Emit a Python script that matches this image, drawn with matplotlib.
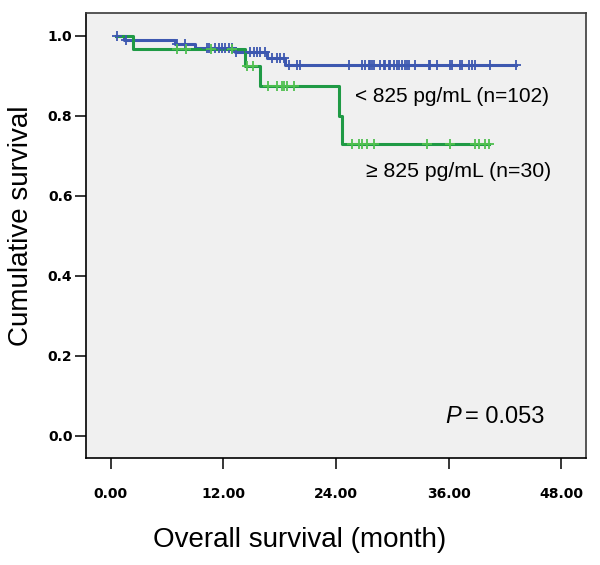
import numpy as np
import matplotlib
matplotlib.use("Agg")
import matplotlib.pyplot as plt

# ---- data ----
low_times = [0.6, 1.35, 6.86, 9.0, 13.26, 16.64, 18.6, 43.13]
low_surv = [1.0, 0.990, 0.980, 0.970, 0.960, 0.943, 0.927, 0.927]
low_censor = [0.64, 1.63, 7.1, 7.85, 10.2, 10.41, 11.13, 11.48, 11.84, 12.19,
              12.54, 12.9, 13.37, 14.86, 15.21, 15.57, 15.93, 16.46, 17.17, 17.7,
              18.06, 18.41, 18.95, 19.84, 20.2, 25.35, 26.77, 27.13, 27.48, 27.66,
              27.84, 28.01, 28.73, 29.08, 29.26, 29.61, 29.79, 30.15, 30.5, 30.68,
              31.04, 31.39, 31.57, 31.75, 32.46, 33.88, 34.06, 34.77, 36.19, 36.37,
              37.26, 37.44, 38.15, 38.5, 38.86, 40.46, 43.13]

high_times = [0.6, 2.4, 14.33, 15.93, 24.35, 24.6, 40.3]
high_surv = [1.0, 0.967, 0.925, 0.875, 0.80, 0.728, 0.728]
high_censor = [7.04, 8.03, 10.7, 12.9, 14.5, 15.2, 16.8, 17.7, 18.24, 18.41,
               18.77, 19.48, 25.7, 26.41, 26.77, 27.3, 28.01, 33.7, 36.19,
               38.86, 39.22, 39.93, 40.3]

low_label = "< 825 pg/mL (n=102)"
high_label = "\u2265 825 pg/mL (n=30)"
p_value = "0.053"
xticks = [0, 12, 24, 36, 48]
yticks = [0.0, 0.2, 0.4, 0.6, 0.8, 1.0]

BLUE = "#3d58b0"
GREEN = "#1f9a45"
GREEN_C = "#50c050"


def step_value(times, surv, t):
    idx = np.searchsorted(times, t, side="right") - 1
    idx = np.clip(idx, 0, len(surv) - 1)
    return np.asarray(surv)[idx]


fig = plt.figure(figsize=(6.0, 5.65), dpi=100)
ax = fig.add_axes([0.143, 0.190, 0.833, 0.7875])
ax.set_facecolor("#f0f0f0")

ax.step(low_times, low_surv, where="post", color=BLUE, lw=2.2, zorder=3)
ax.step(high_times, high_surv, where="post", color=GREEN, lw=2.2, zorder=4)
ax.plot(low_censor, step_value(low_times, low_surv, low_censor), ls="none",
        marker="+", ms=6.5, mew=1.3, color=BLUE, zorder=5)
ax.plot(high_censor, step_value(high_times, high_surv, high_censor), ls="none",
        marker="+", ms=6.5, mew=1.3, color=GREEN_C, zorder=6)

ax.set_xlim(-2.67, 50.6)
ax.set_ylim(-0.055, 1.057)
ax.set_xticks(xticks)
ax.set_xticklabels([f"{v:.2f}" for v in xticks])
ax.set_yticks(yticks)
ax.set_yticklabels([f"{v:.1f}" for v in yticks])

for lab in ax.get_xticklabels() + ax.get_yticklabels():
    lab.set_fontfamily("DejaVu Sans")
    lab.set_fontweight("bold")
    lab.set_fontsize(10)

ax.tick_params(axis="x", length=7.6, width=1.1, pad=13.5, color="black")
ax.tick_params(axis="y", length=7.6, width=1.1, pad=2.0, color="black")

for s in ax.spines.values():
    s.set_color("#3a3a3a")
    s.set_linewidth(1.2)
ax.spines["bottom"].set_color("black")
ax.spines["left"].set_color("black")

ax.set_xlabel("Overall survival (month)", fontsize=20, family="Liberation Sans",
              labelpad=19)
ax.xaxis.label.set_x(0.428)
ax.set_ylabel("Cumulative survival", fontsize=20, family="Liberation Sans",
              labelpad=10)
ax.yaxis.label.set_y(0.521)

ax.text(26.0, 0.847, low_label, fontsize=15, family=["Liberation Sans", "DejaVu Sans"],
        va="center", ha="left")
ax.text(27.2, 0.659, high_label, fontsize=15.3, family=["Liberation Sans", "DejaVu Sans"],
        va="center", ha="left")
ax.text(35.6, 0.047, "P", fontsize=17, family="Liberation Sans", fontstyle="italic",
        va="center", ha="left")
ax.text(37.75, 0.047, "= " + p_value, fontsize=17, family="Liberation Sans",
        va="center", ha="left")

fig.savefig("out.png", dpi=100, facecolor="white")
